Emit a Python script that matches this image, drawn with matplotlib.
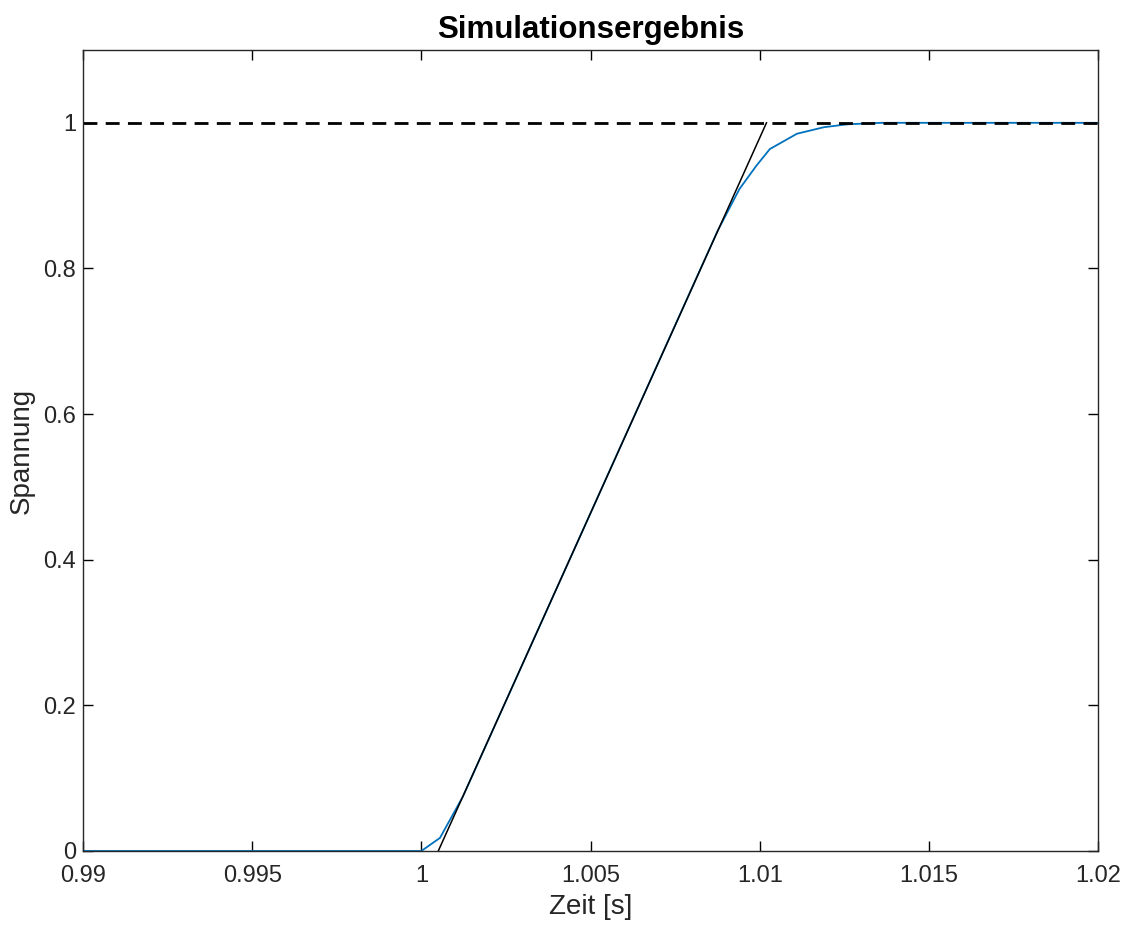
import numpy as np
import matplotlib
matplotlib.use("Agg")
import matplotlib.pyplot as plt

plt.rcParams['font.family'] = ['Liberation Sans', 'DejaVu Sans']

# simulated voltage
zeit = [0.99, 1.0, 1.00055, 1.00123, 1.00876, 1.0094, 1.0099, 1.0103,
        1.0111, 1.0119, 1.0126, 1.0136, 1.02]
spannung = [0, 0, 0.018, 0.075, 0.852, 0.909, 0.941, 0.964,
            0.985, 0.994, 0.998, 1.0, 1.0]

# tangent line and final value
tangente_t = [1.0005, 1.0102]
tangente_u = [0, 1]
endwert = 1.0

x_ticks = [0.99, 0.995, 1.0, 1.005, 1.01, 1.015, 1.02]
x_labels = ['0.99', '0.995', '1', '1.005', '1.01', '1.015', '1.02']
y_ticks = [0, 0.2, 0.4, 0.6, 0.8, 1.0]
y_labels = ['0', '0.2', '0.4', '0.6', '0.8', '1']

fig = plt.figure(figsize=(11.34, 9.26), dpi=100)
ax = fig.add_axes([0.0732, 0.081, 0.8951, 0.865])

ax.plot(zeit, spannung, color='#0072BD', linewidth=1.3)
ax.plot(tangente_t, tangente_u, color='black', linewidth=1.1)
ax.plot([0.99, 1.02], [endwert, endwert], color='black', linewidth=2.0,
        linestyle=(0, (5, 3)))

ax.set_xlim(0.99, 1.02)
ax.set_ylim(0, 1.1)
ax.set_xticks(x_ticks)
ax.set_xticklabels(x_labels)
ax.set_yticks(y_ticks)
ax.set_yticklabels(y_labels)
ax.tick_params(direction='in', top=True, right=True, length=7, width=1,
               labelsize=17, labelcolor='#262626', pad=5)
ax.tick_params(axis='x', pad=10)
for s in ax.spines.values():
    s.set_linewidth(1.0)
    s.set_color('#262626')

ax.set_xlabel('Zeit [s]', fontsize=20, color='#262626', labelpad=5)
ax.set_ylabel('Spannung', fontsize=20, color='#262626', labelpad=6)
ax.set_title('Simulationsergebnis', fontsize=22.5, fontweight='bold', pad=9)

fig.savefig('out.png', dpi=100)
